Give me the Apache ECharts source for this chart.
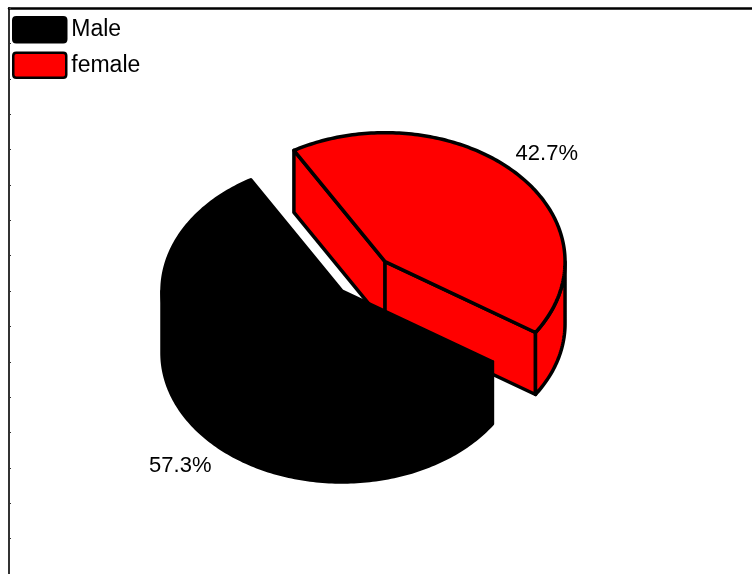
<!DOCTYPE html>
<html>
<head>
<meta charset="utf-8">
<script src="https://cdn.jsdelivr.net/npm/echarts@6/dist/echarts.min.js"></script>
<style>
html,body{margin:0;padding:0;background:#fff;}
#chart{width:752px;height:574px;}
</style>
</head>
<body>
<div id="chart"></div>
<script>
// ---- data ----
const categories = ['Male', 'female'];
const values = [57.3, 42.7];
const sliceColors = ['#000000', '#ff0000'];
const explodeRatio = [0, 0.33];

// ---- layout (pie geometry) ----
const CX = 342, CY = 291, RX = 180, RY = 129, DEPTH = 62;
const START_ANGLE = 33.3; // degrees, screen-parametric, increasing clockwise
const LABEL_R = 1.24;
const FONT = "'Liberation Sans', Arial, sans-serif";

const total = values.reduce((a, b) => a + b, 0);
const rad = d => d * Math.PI / 180;

function sliceAngles(i) {
  let a = START_ANGLE;
  for (let k = 0; k < i; k++) a += values[k] / total * 360;
  return [a, a + values[i] / total * 360];
}

function arcPts(ox, oy, a0, a1, dy) {
  const pts = [];
  const n = Math.max(2, Math.ceil(Math.abs(a1 - a0)));
  for (let s = 0; s <= n; s++) {
    const t = rad(a0 + (a1 - a0) * s / n);
    pts.push([ox + RX * Math.cos(t), oy + RY * Math.sin(t) + dy]);
  }
  return pts;
}

function buildSlice(i) {
  const [a0, a1] = sliceAngles(i);
  const mid = rad((a0 + a1) / 2);
  const ex = explodeRatio[i];
  const ox = CX + ex * RX * Math.cos(mid);
  const oy = CY + ex * RY * Math.sin(mid);
  const fill = sliceColors[i];
  const style = { fill: fill, stroke: '#000', lineWidth: 3.5, lineJoin: 'round' };
  const children = [];
  const P = a => [ox + RX * Math.cos(rad(a)), oy + RY * Math.sin(rad(a))];
  const face = a => {
    const p = P(a);
    return { type: 'polygon', shape: { points: [[ox, oy], p, [p[0], p[1] + DEPTH], [ox, oy + DEPTH]] }, style: style };
  };
  if (Math.cos(rad(a0)) < 0) children.push(face(a0));
  if (Math.cos(rad(a1)) > 0) children.push(face(a1));
  for (let base = -720; base <= 720; base += 360) {
    const s0 = Math.max(a0, base), s1 = Math.min(a1, base + 180);
    if (s1 > s0) {
      const top = arcPts(ox, oy, s0, s1, 0);
      const bot = arcPts(ox, oy, s0, s1, DEPTH).reverse();
      children.push({ type: 'polygon', shape: { points: top.concat(bot) }, style: style });
    }
  }
  children.push({ type: 'polygon', shape: { points: [[ox, oy]].concat(arcPts(ox, oy, a0, a1, 0)) }, style: style });
  const lx = ox + LABEL_R * RX * Math.cos(mid);
  const ly = oy + LABEL_R * RY * Math.sin(mid) + (Math.sin(mid) > 0 ? DEPTH : 0) + 3;
  children.push({
    type: 'text', z2: 10,
    style: { text: values[i].toFixed(1) + '%', x: lx, y: ly, fill: '#000', font: '22px ' + FONT, align: 'center', verticalAlign: 'middle' }
  });
  return { type: 'group', children: children };
}

const chart = echarts.init(document.getElementById('chart'), null, { renderer: 'canvas' });
const legendIcon = 'path://M3,0 H50 Q53,0 53,3 V22 Q53,25 50,25 H3 Q0,25 0,22 V3 Q0,0 3,0 Z';

chart.setOption({
  backgroundColor: '#ffffff',
  animation: false,
  grid: { left: 9, top: 8, width: 780, height: 568 },
  xAxis: {
    type: 'value', position: 'top', min: 0, max: 1,
    axisLine: { show: true, onZero: false, lineStyle: { color: '#000', width: 2.5 } },
    axisTick: { show: false }, axisLabel: { show: false }, splitLine: { show: false }
  },
  yAxis: {
    type: 'value', min: 0, max: 16, interval: 1,
    axisLine: { show: true, onZero: false, lineStyle: { color: '#333', width: 2 } },
    axisTick: { show: true, inside: true, length: 2, lineStyle: { color: '#333', width: 1 } },
    axisLabel: { show: false }, splitLine: { show: false }
  },
  legend: {
    orient: 'vertical', left: 12, top: 16, itemGap: 8, padding: 0,
    itemWidth: 53, itemHeight: 25, icon: legendIcon,
    data: categories,
    itemStyle: { borderColor: '#000', borderWidth: 2.5 },
    textStyle: { fontSize: 23, color: '#000', fontFamily: FONT },
    selectedMode: false
  },
  series: categories.map((name, i) => ({
    type: 'custom', name: name, coordinateSystem: 'none',
    z: i === 0 ? 4 : 3,
    itemStyle: { color: sliceColors[i] },
    data: [values[i]],
    renderItem: function () { return buildSlice(i); }
  }))
});
</script>
</body>
</html>
